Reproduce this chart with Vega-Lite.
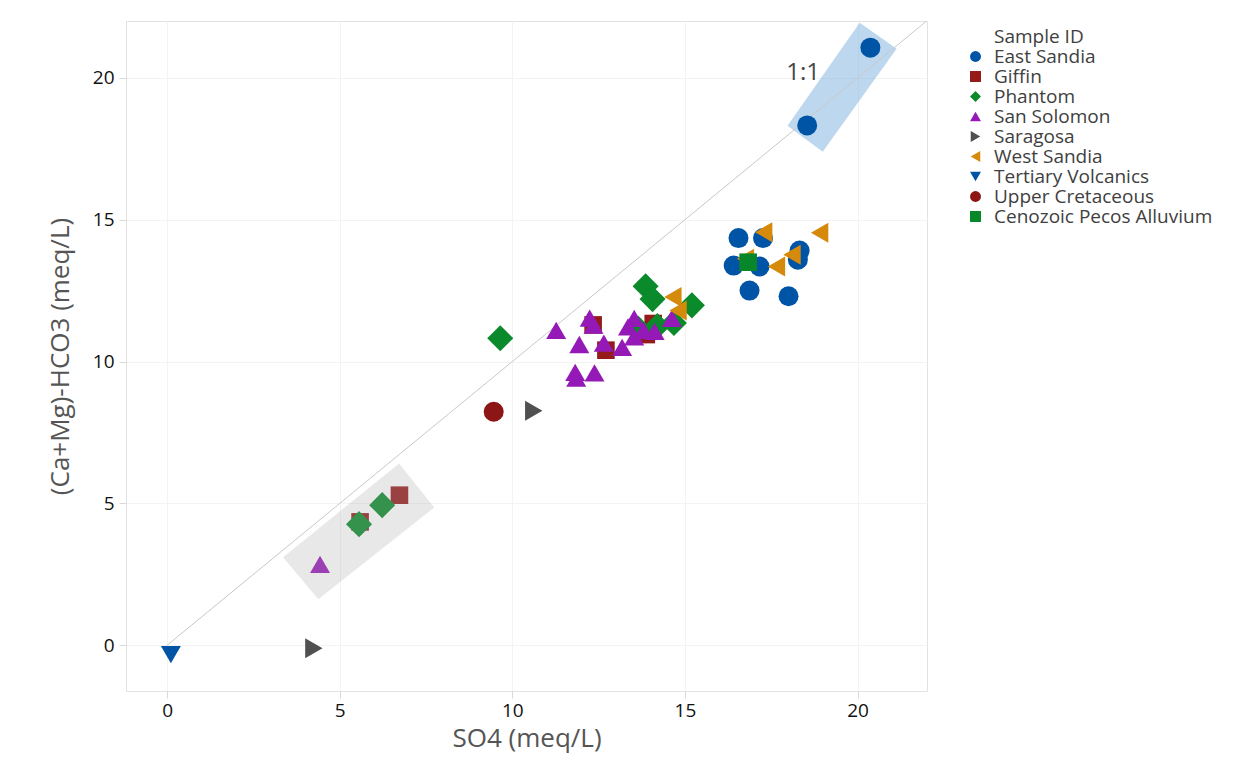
{
  "$schema": "https://vega.github.io/schema/vega-lite/v6.json",
  "width": 801,
  "height": 670,
  "autosize": {"type": "none"},
  "padding": {"left": 126, "top": 21, "right": 327, "bottom": 88},
  "background": "white",
  "config": {
    "font": "Open Sans",
    "view": {"stroke": "#e2e2e2", "strokeWidth": 1},
    "axis": {
      "domain": false,
      "grid": true,
      "gridColor": "#f3f3f3",
      "gridWidth": 1,
      "ticks": true,
      "tickColor": "#d8d8d8",
      "tickSize": 7,
      "labelFont": "Open Sans",
      "labelFontSize": 19,
      "labelColor": "#111111",
      "titleFont": "Open Sans",
      "titleFontSize": 26,
      "titleFontWeight": "normal",
      "titleColor": "#555555"
    },
    "legend": {
      "titleFont": "Open Sans",
      "titleFontSize": 19,
      "titleFontWeight": "normal",
      "titleColor": "#404040",
      "labelFont": "Open Sans",
      "labelFontSize": 19,
      "labelColor": "#404040",
      "labelLimit": 400
    },
    "point": {"filled": true, "opacity": 1, "strokeWidth": 0}
  },
  "datasets": {
    "samples": [
      {"SO4": 20.37, "CaMgHCO3": 21.06, "Sample ID": "East Sandia"},
      {"SO4": 18.54, "CaMgHCO3": 18.32, "Sample ID": "East Sandia"},
      {"SO4": 16.55, "CaMgHCO3": 14.35, "Sample ID": "East Sandia"},
      {"SO4": 17.26, "CaMgHCO3": 14.35, "Sample ID": "East Sandia"},
      {"SO4": 16.41, "CaMgHCO3": 13.38, "Sample ID": "East Sandia"},
      {"SO4": 17.16, "CaMgHCO3": 13.35, "Sample ID": "East Sandia"},
      {"SO4": 18.32, "CaMgHCO3": 13.91, "Sample ID": "East Sandia"},
      {"SO4": 18.27, "CaMgHCO3": 13.59, "Sample ID": "East Sandia"},
      {"SO4": 16.87, "CaMgHCO3": 12.5, "Sample ID": "East Sandia"},
      {"SO4": 18.0, "CaMgHCO3": 12.3, "Sample ID": "East Sandia"},
      {"SO4": 9.46, "CaMgHCO3": 8.23, "Sample ID": "Upper Cretaceous"},
      {"SO4": 0.11, "CaMgHCO3": -0.33, "Sample ID": "Tertiary Volcanics"},
      {"SO4": 4.25, "CaMgHCO3": -0.1, "Sample ID": "Saragosa"},
      {"SO4": 10.62, "CaMgHCO3": 8.27, "Sample ID": "Saragosa"},
      {"SO4": 5.59, "CaMgHCO3": 4.35, "Sample ID": "Giffin"},
      {"SO4": 6.73, "CaMgHCO3": 5.29, "Sample ID": "Giffin"},
      {"SO4": 12.34, "CaMgHCO3": 11.29, "Sample ID": "Giffin"},
      {"SO4": 12.71, "CaMgHCO3": 10.4, "Sample ID": "Giffin"},
      {"SO4": 14.08, "CaMgHCO3": 11.34, "Sample ID": "Giffin"},
      {"SO4": 13.88, "CaMgHCO3": 10.95, "Sample ID": "Giffin"},
      {"SO4": 5.56, "CaMgHCO3": 4.27, "Sample ID": "Phantom"},
      {"SO4": 6.23, "CaMgHCO3": 4.94, "Sample ID": "Phantom"},
      {"SO4": 9.65, "CaMgHCO3": 10.82, "Sample ID": "Phantom"},
      {"SO4": 13.86, "CaMgHCO3": 12.65, "Sample ID": "Phantom"},
      {"SO4": 14.06, "CaMgHCO3": 12.2, "Sample ID": "Phantom"},
      {"SO4": 15.2, "CaMgHCO3": 11.98, "Sample ID": "Phantom"},
      {"SO4": 14.68, "CaMgHCO3": 11.36, "Sample ID": "Phantom"},
      {"SO4": 13.65, "CaMgHCO3": 11.15, "Sample ID": "Phantom"},
      {"SO4": 14.2, "CaMgHCO3": 11.25, "Sample ID": "Phantom"},
      {"SO4": 4.43, "CaMgHCO3": 2.85, "Sample ID": "San Solomon"},
      {"SO4": 11.27, "CaMgHCO3": 11.1, "Sample ID": "San Solomon"},
      {"SO4": 12.24, "CaMgHCO3": 11.53, "Sample ID": "San Solomon"},
      {"SO4": 12.35, "CaMgHCO3": 11.28, "Sample ID": "San Solomon"},
      {"SO4": 11.94, "CaMgHCO3": 10.6, "Sample ID": "San Solomon"},
      {"SO4": 12.65, "CaMgHCO3": 10.65, "Sample ID": "San Solomon"},
      {"SO4": 13.18, "CaMgHCO3": 10.5, "Sample ID": "San Solomon"},
      {"SO4": 11.82, "CaMgHCO3": 9.62, "Sample ID": "San Solomon"},
      {"SO4": 11.85, "CaMgHCO3": 9.42, "Sample ID": "San Solomon"},
      {"SO4": 12.38, "CaMgHCO3": 9.6, "Sample ID": "San Solomon"},
      {"SO4": 13.53, "CaMgHCO3": 11.52, "Sample ID": "San Solomon"},
      {"SO4": 13.35, "CaMgHCO3": 11.22, "Sample ID": "San Solomon"},
      {"SO4": 13.53, "CaMgHCO3": 10.87, "Sample ID": "San Solomon"},
      {"SO4": 13.8, "CaMgHCO3": 11.1, "Sample ID": "San Solomon"},
      {"SO4": 14.12, "CaMgHCO3": 11.06, "Sample ID": "San Solomon"},
      {"SO4": 14.62, "CaMgHCO3": 11.52, "Sample ID": "San Solomon"},
      {"SO4": 17.28, "CaMgHCO3": 14.56, "Sample ID": "West Sandia"},
      {"SO4": 18.9, "CaMgHCO3": 14.54, "Sample ID": "West Sandia"},
      {"SO4": 16.75, "CaMgHCO3": 13.62, "Sample ID": "West Sandia"},
      {"SO4": 17.65, "CaMgHCO3": 13.35, "Sample ID": "West Sandia"},
      {"SO4": 18.1, "CaMgHCO3": 13.76, "Sample ID": "West Sandia"},
      {"SO4": 14.65, "CaMgHCO3": 12.27, "Sample ID": "West Sandia"},
      {"SO4": 14.8, "CaMgHCO3": 11.8, "Sample ID": "West Sandia"},
      {"SO4": 16.83, "CaMgHCO3": 13.5, "Sample ID": "Cenozoic Pecos Alluvium"}
    ],
    "bandHigh": [
      {"SO4": 20.06, "CaMgHCO3": 21.94, "vertex": 1},
      {"SO4": 21.13, "CaMgHCO3": 21.02, "vertex": 2},
      {"SO4": 18.99, "CaMgHCO3": 17.39, "vertex": 3},
      {"SO4": 17.97, "CaMgHCO3": 18.31, "vertex": 4}
    ],
    "bandLow": [
      {"SO4": 6.72, "CaMgHCO3": 6.41, "vertex": 1},
      {"SO4": 7.74, "CaMgHCO3": 4.86, "vertex": 2},
      {"SO4": 4.38, "CaMgHCO3": 1.62, "vertex": 3},
      {"SO4": 3.36, "CaMgHCO3": 3.1, "vertex": 4}
    ],
    "oneToOne": [
      {"SO4": 0, "CaMgHCO3": 0},
      {"SO4": 22, "CaMgHCO3": 22}
    ],
    "lineLabel": [
      {"SO4": 18.42, "CaMgHCO3": 20.17, "label": "1:1"}
    ]
  },
  "encoding": {
    "x": {
      "field": "SO4",
      "type": "quantitative",
      "scale": {"domain": [-1.19, 22.01], "nice": false, "zero": false},
      "axis": {"title": "SO4 (meq/L)", "values": [0, 5, 10, 15, 20], "labelPadding": 3, "titlePadding": 5}
    },
    "y": {
      "field": "CaMgHCO3",
      "type": "quantitative",
      "scale": {"domain": [-1.61, 22.0], "nice": false, "zero": false},
      "axis": {"title": "(Ca+Mg)-HCO3 (meq/L)", "values": [0, 5, 10, 15, 20], "labelPadding": 5, "titlePadding": 19}
    },
    "color": {
      "field": "Sample ID",
      "type": "nominal",
      "scale": {
        "domain": ["East Sandia", "Giffin", "Phantom", "San Solomon", "Saragosa", "West Sandia", "Tertiary Volcanics", "Upper Cretaceous", "Cenozoic Pecos Alluvium"],
        "range": ["#0054a6", "#951b1b", "#0a8a2a", "#9419b6", "#505050", "#d68a0b", "#0054a6", "#8c1515", "#08872a"]
      },
      "legend": {
        "orient": "none",
        "legendX": 868,
        "legendY": 7,
        "padding": 0,
        "title": "Sample ID",
        "titlePadding": 0,
        "symbolSize": 120,
        "symbolStrokeWidth": 0,
        "symbolOpacity": 1,
        "labelOffset": 9,
        "symbolOffset": -28,
        "rowPadding": -0.5
      }
    },
    "shape": {
      "field": "Sample ID",
      "type": "nominal",
      "scale": {
        "domain": ["East Sandia", "Giffin", "Phantom", "San Solomon", "Saragosa", "West Sandia", "Tertiary Volcanics", "Upper Cretaceous", "Cenozoic Pecos Alluvium"],
        "range": ["circle", "square", "diamond", "triangle-up", "triangle-right", "triangle-left", "triangle-down", "circle", "square"]
      }
    }
  },
  "layer": [
    {
      "data": {"name": "bandHigh"},
      "mark": {"type": "line", "interpolate": "linear-closed", "fill": "#5b9bd5", "fillOpacity": 0.4, "strokeOpacity": 0},
      "encoding": {"order": {"field": "vertex", "type": "quantitative"}, "color": {"value": "#5b9bd5"}, "shape": null}
    },
    {
      "data": {"name": "oneToOne"},
      "mark": {"type": "line", "strokeWidth": 1},
      "encoding": {"color": {"value": "#c8c8c8"}, "shape": null}
    },
    {
      "data": {"name": "samples"},
      "transform": [{"filter": {"field": "Sample ID", "oneOf": ["East Sandia", "Upper Cretaceous", "Tertiary Volcanics", "Saragosa"]}}],
      "mark": {"type": "point", "size": 400}
    },
    {
      "data": {"name": "samples"},
      "transform": [{"filter": {"field": "Sample ID", "equal": "Giffin"}}],
      "mark": {"type": "point", "size": 310}
    },
    {
      "data": {"name": "samples"},
      "transform": [{"filter": {"field": "Sample ID", "equal": "Phantom"}}],
      "mark": {"type": "point", "size": 680}
    },
    {
      "data": {"name": "samples"},
      "transform": [{"filter": {"field": "Sample ID", "oneOf": ["San Solomon", "West Sandia"]}}],
      "mark": {"type": "point", "size": 400}
    },
    {
      "data": {"name": "samples"},
      "transform": [{"filter": {"field": "Sample ID", "equal": "Cenozoic Pecos Alluvium"}}],
      "mark": {"type": "point", "size": 310}
    },
    {
      "data": {"name": "bandLow"},
      "mark": {"type": "line", "interpolate": "linear-closed", "fill": "#aaaaaa", "fillOpacity": 0.27, "strokeOpacity": 0},
      "encoding": {"order": {"field": "vertex", "type": "quantitative"}, "color": {"value": "#aaaaaa"}, "shape": null}
    },
    {
      "data": {"name": "lineLabel"},
      "mark": {"type": "text", "fontSize": 24, "align": "center", "baseline": "middle"},
      "encoding": {"text": {"field": "label"}, "color": {"value": "#454545"}, "shape": null}
    }
  ]
}
